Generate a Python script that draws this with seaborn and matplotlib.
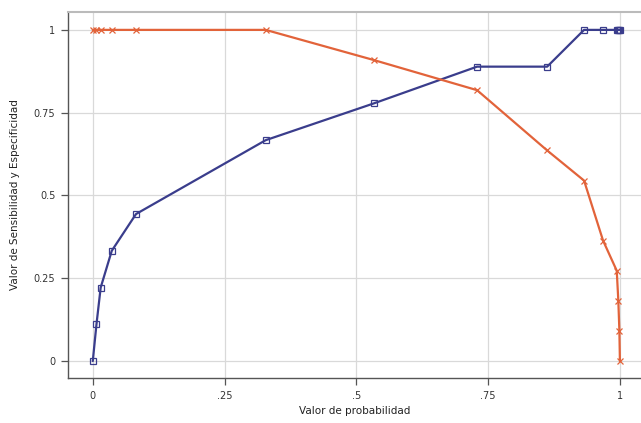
import matplotlib
matplotlib.use("Agg")
import matplotlib.pyplot as plt
import seaborn as sns
import pandas as pd

# Data
prob = [0.0, 0.007, 0.015, 0.036, 0.082, 0.328, 0.533, 0.729, 0.862, 0.932, 0.968, 0.994, 0.997, 0.999, 1.0]
sens = [0.0, 0.111, 0.222, 0.333, 0.444, 0.667, 0.778, 0.889, 0.889, 1.0, 1.0, 1.0, 1.0, 1.0, 1.0]
spec = [1.0, 1.0, 1.0, 1.0, 1.0, 1.0, 0.909, 0.818, 0.636, 0.545, 0.364, 0.273, 0.182, 0.091, 0.0]
xticks = [0, 0.25, 0.5, 0.75, 1]
xticklabels = ["0", ".25", ".5", ".75", "1"]
yticks = [0, 0.25, 0.5, 0.75, 1]
yticklabels = ["0", "0.25", "0.5", "0.75", "1"]

sns.set_theme(style="white")
plt.rcParams['font.family'] = ['DejaVu Sans']

df_s = pd.DataFrame({"x": prob, "y": sens})
df_p = pd.DataFrame({"x": prob, "y": spec})

fig = plt.figure(figsize=(6.41, 4.23), dpi=100)
ax = fig.add_axes([68/641, 1-378/423, 1-68/641, (378-12)/423])

blue = "#3a3d8c"
orange = "#e2633a"

sns.lineplot(data=df_s, x="x", y="y", ax=ax, sort=False, color=blue, lw=1.6,
             marker="s", markersize=4, markerfacecolor="none",
             markeredgecolor=blue, markeredgewidth=0.9)
sns.lineplot(data=df_p, x="x", y="y", ax=ax, sort=False, color=orange, lw=1.6,
             marker="x", markersize=4, markeredgecolor=orange, markeredgewidth=0.9)

ax.set_xlim(-0.047, 1.04)
ax.set_ylim(-0.051, 1.054)
ax.set_xticks(xticks)
ax.set_xticklabels(xticklabels)
ax.set_yticks(yticks)
ax.set_yticklabels(yticklabels)
ax.grid(True, color="#d9d9d9", lw=0.9)
ax.set_axisbelow(True)

for s in ["left", "bottom"]:
    ax.spines[s].set_color("#555555")
    ax.spines[s].set_linewidth(1.0)
ax.spines["top"].set_color("#bbbbbb")
ax.spines["top"].set_linewidth(1.5)
ax.spines["right"].set_visible(False)

ax.tick_params(axis="both", which="both", direction="out", length=5, width=0.9,
               color="#555555", labelsize=7, labelcolor="#333333",
               left=True, bottom=True, pad=4)
ax.set_xlabel("Valor de probabilidad", fontsize=7.5, color="#222222", labelpad=4)
ax.set_ylabel("Valor de Sensibilidad y Especificidad", fontsize=7.5, color="#222222", labelpad=10)

fig.savefig("out.png", dpi=100)
